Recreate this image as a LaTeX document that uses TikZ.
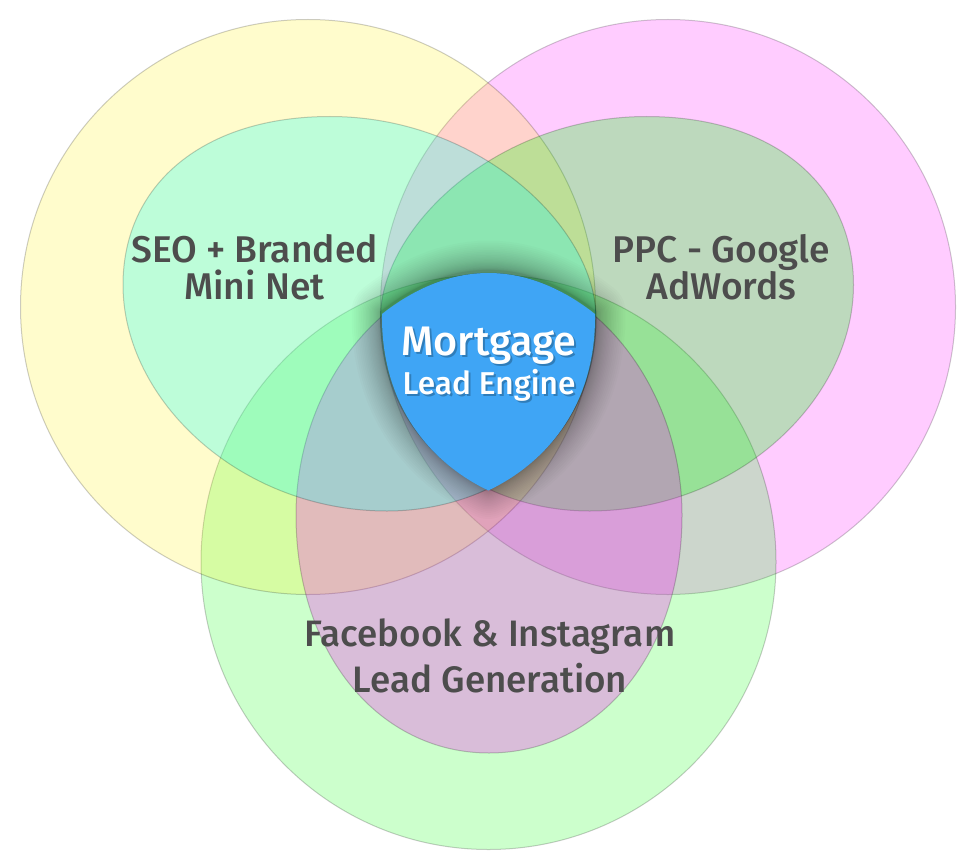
\documentclass[tikz,border=0pt]{standalone}
\usepackage{fontspec}
\setmainfont{Fira Sans}
\newfontfamily\labelfont{Fira Sans Medium}
\newfontfamily\corefont{Fira Sans Medium}
\definecolor{labelgrey}{HTML}{4D4D4D}
\definecolor{coreblue}{HTML}{3FA5F5}
\definecolor{lime}{RGB}{0,255,0}
\definecolor{pinkm}{RGB}{255,0,255}
\definecolor{yellowm}{RGB}{255,242,0}
\definecolor{cyanm}{RGB}{0,255,255}
\tikzset{
  outer/.style={fill opacity=.2,draw=black,draw opacity=.2,line width=1pt},
  inner/.style={fill opacity=.26,draw=black,draw opacity=.2,line width=1pt},
  lab/.style={text=labelgrey,align=center,inner sep=0pt,font=\labelfont\fontsize{37.2}{36.7}\selectfont},
  labb/.style={text=labelgrey,align=center,inner sep=0pt,font=\labelfont\fontsize{36.8}{45.7}\selectfont},
  coremain/.style={anchor=base,inner sep=0pt,font=\corefont\fontsize{41.3}{41}\selectfont},
  coresub/.style={anchor=base,inner sep=0pt,font=\corefont\fontsize{31.6}{31}\selectfont},
  txtshadow/.style={text=black,text opacity=.24},
}
\newcommand{\corepath}{(382,314) .. controls (415,288) and (451,273) .. (488.5,273) .. controls (526,273) and (562,288) .. (595,314) .. controls (596,402) and (550,461) .. (488.3,490.5) .. controls (427,461) and (381,402) .. (382,314) -- cycle}
\begin{document}
\begin{tikzpicture}[x=1pt,y=-1pt]
\useasboundingbox (0,0) rectangle (971,864);
\path[fill=pinkm,outer] (668,307) circle[radius=287.5pt];
\path[fill=lime,outer] (488.5,562) circle[radius=287.5pt];
\path[fill=yellowm,outer] (308,307) circle[radius=287.5pt];
% right egg
\path[fill=lime,inner] (646.5,116.5) .. controls (496.5,116.5) and (380.5,228) .. (380.5,318)
  .. controls (380.5,446) and (486.5,511) .. (589.5,511)
  .. controls (736.5,511) and (853.5,400) .. (853.5,285)
  .. controls (853.5,183) and (771.5,116.5) .. (646.5,116.5) -- cycle;
% bottom egg
\path[fill=pinkm,inner] (488.5,273) .. controls (387,273) and (296,385) .. (296,515)
  .. controls (296,655) and (380,753) .. (489,753)
  .. controls (598,753) and (682,655) .. (682,515)
  .. controls (682,385) and (590,273) .. (488.5,273) -- cycle;
% left egg
\path[fill=cyanm,inner] (330,116.5) .. controls (480,116.5) and (596,228) .. (596,318)
  .. controls (596,446) and (490,511) .. (387,511)
  .. controls (240,511) and (123,400) .. (123,285)
  .. controls (123,183) and (205,116.5) .. (330,116.5) -- cycle;
% glow around the core
\begin{scope}[yshift=2pt]
\foreach \i in {1,...,28}{
  \pgfmathsetmacro{\w}{2+\i*\i*0.075}
  \draw[black,opacity=.014,line width=\w pt,line join=round] \corepath;
}
\end{scope}
\fill[coreblue] \corepath;
\node[lab] (seo) at (254.5,267.5) {SEO + Branded\\Mini Net};
\node[lab] (ppc) at (721.5,267.5) {PPC - Google\\AdWords};
\node[labb] (fb) at (490,656) {Facebook \& Instagram\\Lead Generation};
\node[coremain,txtshadow] (coreshadow) at (491,357.5) {Mortgage};
\node[coresub,txtshadow] (coreshadowb) at (491,396.5) {Lead Engine};
\node[coremain,text=white] (core) at (489,355) {Mortgage};
\node[coresub,text=white] (coreb) at (489,394) {Lead Engine};
\end{tikzpicture}
\end{document}
